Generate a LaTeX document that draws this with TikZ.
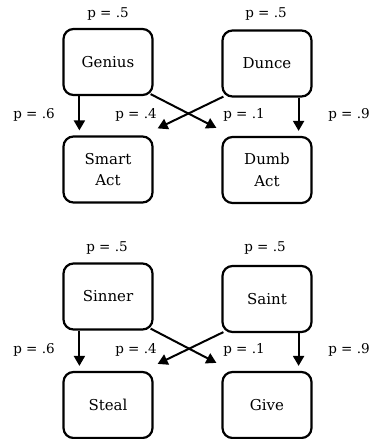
\documentclass[tikz,border=0pt]{standalone}
\usepackage{fontspec}
\setmainfont{DejaVu Serif}
\usetikzlibrary{arrows.meta,calc}
\begin{document}
\begin{tikzpicture}[x=1pt,y=-1pt,
  box/.style={draw,line width=2.2pt,rounded corners=10pt,minimum width=89pt,minimum height=66pt,align=center,inner sep=0pt,font=\fontsize{15}{21.5}\selectfont},
  plab/.style={inner sep=0pt,font=\fontsize{13.5}{16}\selectfont},
  arr/.style={line width=2pt,-{Triangle[width=11pt,length=10pt]}}]
\useasboundingbox (0,0) rectangle (374,439);
% top group
\node[box] (genius) at (108,62) {Genius};
\node[box] (dunce) at (267,63.5) {Dunce};
\node[box] (smart) at (108,169.5) {Smart\\Act};
\node[box] (dumb) at (267,170) {Dumb\\Act};
\node[plab] (l1) at (108,14) {p = .5};
\node[plab] (l2) at (266,14) {p = .5};
\node[plab] (l3) at (34,115) {p = .6};
\node[plab] (l4) at (136,115) {p = .4};
\node[plab] (l5) at (244,115) {p = .1};
\node[plab] (l6) at (349,115) {p = .9};
\draw[arr] ($(genius.south west)+(17,0)$) -- ($(smart.north west)+(17,-5)$);
\draw[arr] ($(genius.south east)+(-3,-2)$) -- ($(dumb.north west)+(-5,-8)$);
\draw[arr] ($(dunce.south west)+(2,-1)$) -- ($(smart.north east)+(4,-7)$);
\draw[arr] ($(dunce.south east)+(-14,0)$) -- ($(dumb.north east)+(-14,-5)$);
% bottom group
\node[box] (sinner) at (108,296.5) {Sinner};
\node[box] (saint) at (267,299) {Saint};
\node[box] (steal) at (108,405) {Steal};
\node[box] (give) at (267,405) {Give};
\node[plab] (m1) at (107,248) {p = .5};
\node[plab] (m2) at (265,248) {p = .5};
\node[plab] (m3) at (34,350) {p = .6};
\node[plab] (m4) at (136,350) {p = .4};
\node[plab] (m5) at (244,350) {p = .1};
\node[plab] (m6) at (349,350) {p = .9};
\draw[arr] ($(sinner.south west)+(17,0)$) -- ($(steal.north west)+(17,-5)$);
\draw[arr] ($(sinner.south east)+(-3,-2)$) -- ($(give.north west)+(-5,-8)$);
\draw[arr] ($(saint.south west)+(2,-1)$) -- ($(steal.north east)+(4,-7)$);
\draw[arr] ($(saint.south east)+(-14,0)$) -- ($(give.north east)+(-14,-5)$);
\end{tikzpicture}
\end{document}
